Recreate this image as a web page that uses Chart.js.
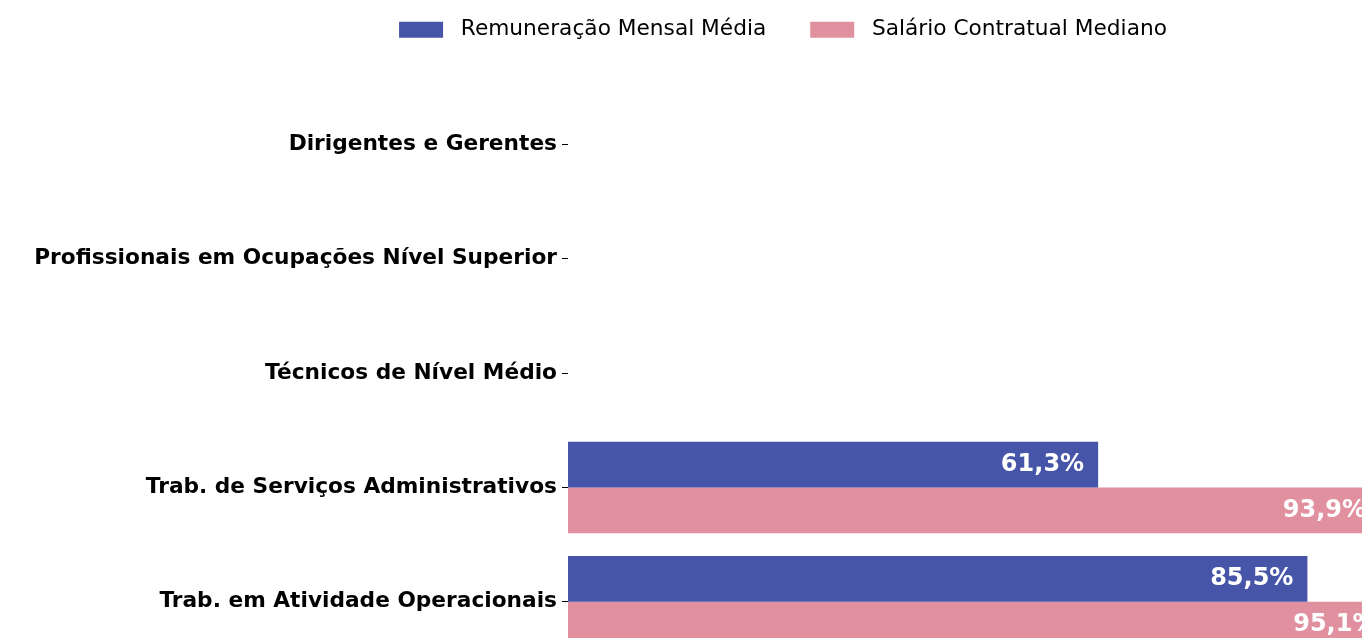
<!DOCTYPE html>
<html>
<head>
<meta charset="utf-8">
<script src="https://cdn.jsdelivr.net/npm/chart.js@4"></script>
<style>
  html, body { margin: 0; padding: 0; overflow: hidden; background: #fff; }
</style>
</head>
<body>
<canvas id="salarioChart" width="1566" height="661"></canvas>
<script>
const categorias = [
  'Dirigentes e Gerentes',
  'Profissionais em Ocupações Nível Superior',
  'Técnicos de Nível Médio',
  'Trab. de Serviços Administrativos',
  'Trab. em Atividade Operacionais'
];
const remuneracaoMedia = [null, null, null, 61.3, 85.5];
const salarioMediano = [null, null, null, 93.9, 95.1];

Chart.defaults.font.family = '"DejaVu Sans", sans-serif';
Chart.defaults.color = '#000';

// legend block height + move legend items up
const legendMargin = {
  id: 'legendMargin',
  beforeInit(chart) {
    const fit = chart.legend.fit;
    chart.legend.fit = function () {
      fit.bind(chart.legend)();
      this.height = 87;
    };
  },
  afterLayout(chart) {
    chart.legend.top -= 25;
  }
};

// percent labels inside the end of each bar
const barLabels = {
  id: 'barLabels',
  afterDatasetsDraw(chart) {
    const ctx = chart.ctx;
    ctx.save();
    ctx.fillStyle = '#fff';
    ctx.font = 'bold 24px "DejaVu Sans"';
    ctx.textAlign = 'right';
    ctx.textBaseline = 'middle';
    chart.data.datasets.forEach((ds, i) => {
      chart.getDatasetMeta(i).data.forEach((bar, j) => {
        const v = ds.data[j];
        if (v == null) return;
        ctx.fillText(v.toFixed(1).replace('.', ',') + '%', bar.x - 14, bar.y);
      });
    });
    ctx.restore();
  }
};

const salarioChart = new Chart(document.querySelector('#salarioChart').getContext('2d'), {
  type: 'bar',
  data: {
    labels: categorias,
    datasets: [{
      label: 'Remuneração Mensal Média',
      data: remuneracaoMedia,
      backgroundColor: '#4655a8',
      categoryPercentage: 0.8,
      barPercentage: 1.0
    }, {
      label: 'Salário Contratual Mediano',
      data: salarioMediano,
      backgroundColor: '#e0909f',
      categoryPercentage: 0.8,
      barPercentage: 1.0
    }]
  },
  options: {
    indexAxis: 'y',
    responsive: false,
    animation: false,
    layout: { padding: { top: 0, bottom: 2, left: 0, right: 0 } },
    plugins: {
      tooltip: { enabled: false },
      legend: {
        position: 'top',
        labels: {
          boxWidth: 44,
          boxHeight: 16,
          padding: 44,
          font: { size: 21.7 },
          color: '#000',
          generateLabels(chart) {
            const items = Chart.defaults.plugins.legend.labels.generateLabels(chart);
            items.forEach(it => { it.text = ' ' + it.text; });
            return items;
          }
        }
      }
    },
    scales: {
      x: {
        display: false,
        min: 0,
        max: 115.4
      },
      y: {
        afterFit(scale) {
          scale.width = 568;
          scale.paddingTop = 0;
          scale.paddingBottom = 0;
        },
        grid: {
          offset: false,
          drawOnChartArea: false,
          tickLength: 6,
          tickColor: '#000'
        },
        border: { display: false },
        ticks: {
          padding: 5,
          color: '#000',
          font: { size: 21.7, weight: 'bold' }
        }
      }
    }
  },
  plugins: [legendMargin, barLabels]
});
</script>
</body>
</html>
